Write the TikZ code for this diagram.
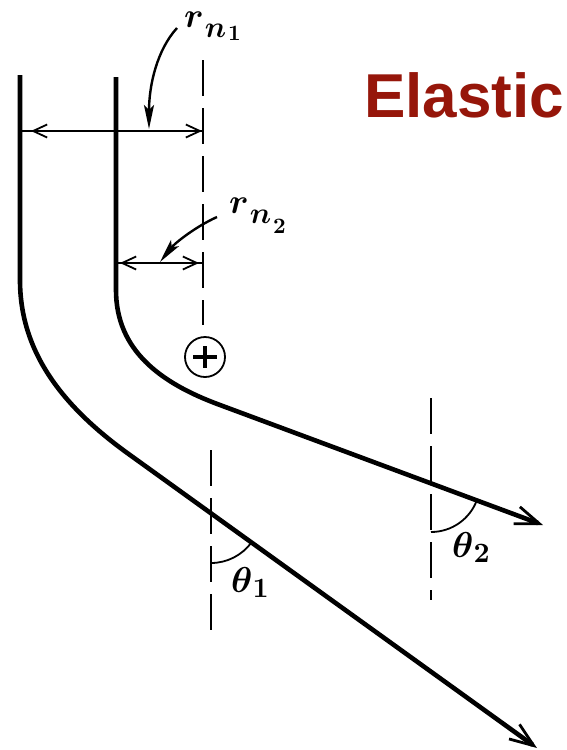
\documentclass[tikz,border=0pt]{standalone}
\usepackage{fontspec}
\newfontfamily\labelfont{Liberation Sans}
\usepackage{graphicx}
\usepackage{xcolor}
\usetikzlibrary{arrows.meta}
\definecolor{elasticred}{RGB}{150,22,10}

\newcommand{\rnlabel}[2]{\scalebox{3.5}{$r$}\kern1pt\raisebox{-10pt}{\scalebox{3}{$n$}}\kern2pt\raisebox{-#2pt}{\scalebox{2.2}{$#1$}}}
\newcommand{\thlabel}[1]{\scalebox{3.6}{$\theta$}\raisebox{-5pt}{\scalebox{2.8}{$#1$}}}

\begin{document}
\begin{tikzpicture}[
    x=1pt, y=-1pt,
    traj/.style={line width=4.6pt},
    dim/.style={line width=1.8pt},
    barb/.style={-{Straight Barb[length=14pt,width=13pt,line width=1.8pt]}, line width=1.8pt},
    guide/.style={line width=2.2pt, dash pattern=on 36pt off 12pt},
    leader/.style={line width=2.4pt, -{Stealth[length=24pt,width=10pt,inset=5pt]}},
    lbl/.style={anchor=base west, inner sep=0pt, font=\boldmath}
]
    \useasboundingbox (0,0) rectangle (567,750);

    % trajectories
    \draw[traj, -{Straight Barb[length=24pt,width=18pt,line width=2.8pt]}] (20,75) -- (20,280) .. controls (20,350) and (60,405) .. (130,455) -- (537,748);
    \draw[traj, -{Straight Barb[length=24pt,width=18pt,line width=2.8pt]}] (116,77) -- (116,290) .. controls (116,350) and (160,383) .. (220,405) -- (543,525);

    % guide lines
    \draw[guide] (203,60) -- (203,325);
    \draw[guide] (211,450) -- (211,633);
    \draw[guide] (431,398) -- (431,600);

    % nucleus
    \node[circle, draw, line width=1.8pt, minimum size=40pt, inner sep=0pt] (nucleus) at (205,357) {};
    \draw[line width=4pt] (nucleus.center) ++(-12,0) -- ++(24,0);
    \draw[line width=4pt] (nucleus.center) ++(0,-11) -- ++(0,22);

    % impact parameters
    \draw[dim] (20,131) -- (203,131);
    \draw[barb] (50,131) -- (31,131);
    \draw[barb] (180,131) -- (202,131);
    \draw[dim] (116,263) -- (203,263);
    \draw[barb] (140,263) -- (120,263);
    \draw[barb] (178,263) -- (199,263);

    \node[lbl] (rn1) at (184,27) {\rnlabel{1}{13}};
    \node[lbl] (rn2) at (229,213) {\rnlabel{2}{20}};
    \draw[leader] (177,28) .. controls (157,50) and (149,85) .. (149,129);
    \draw[leader] (217,217) .. controls (195,227) and (175,243) .. (160,262);

    % scattering angles
    \draw[dim] (211,563) arc[start angle=-90, end angle=-36, radius=50pt];
    \draw[dim] (431,532) arc[start angle=-90, end angle=-20, radius=49pt];
    \node[lbl] (th1) at (231,592) {\thlabel{1}};
    \node[lbl] (th2) at (452,557) {\thlabel{2}};

    \node[lbl, font=\labelfont\bfseries\fontsize{62}{62}\selectfont, text=elasticred] (title) at (364,117) {Elastic};
\end{tikzpicture}
\end{document}
